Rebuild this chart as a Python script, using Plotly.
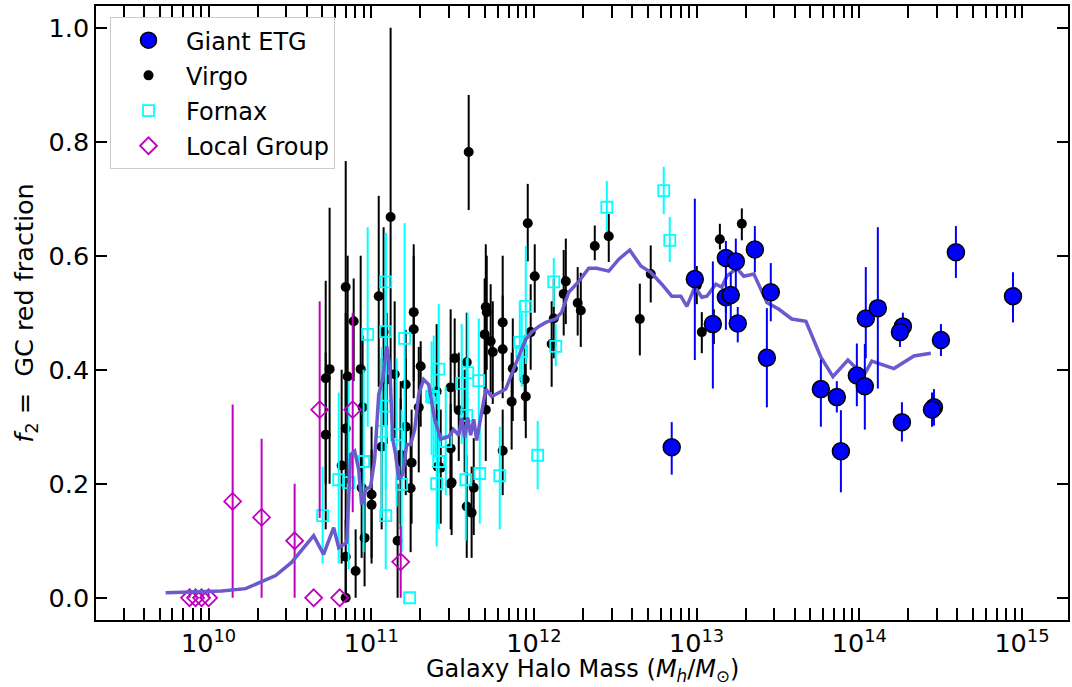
import plotly.graph_objects as go

# ---------------- data (log10 halo mass, red fraction, upper bound, lower bound) -------------
etg_logm = [12.989, 12.847, 13.100, 13.180, 13.241, 13.180, 13.210, 13.253, 13.358, 13.456,
            13.432, 13.764, 13.862, 13.887, 13.985, 14.040, 14.034, 14.114, 14.268, 14.250,
            14.262, 14.459, 14.447, 14.502, 14.594, 14.945]
etg_f = [0.559, 0.264, 0.480, 0.596, 0.590, 0.527, 0.531, 0.481, 0.611, 0.536,
         0.421, 0.366, 0.352, 0.257, 0.390, 0.490, 0.371, 0.508, 0.476, 0.466,
         0.308, 0.334, 0.330, 0.452, 0.606, 0.529]
etg_hi = [0.700, 0.308, 0.590, 0.626, 0.630, 0.560, 0.570, 0.510, 0.652, 0.587,
          0.508, 0.418, 0.380, 0.329, 0.446, 0.580, 0.445, 0.650, 0.500, 0.480,
          0.343, 0.366, 0.360, 0.480, 0.652, 0.571]
etg_lo = [0.417, 0.216, 0.367, 0.500, 0.530, 0.470, 0.480, 0.448, 0.571, 0.485,
          0.334, 0.300, 0.325, 0.185, 0.336, 0.420, 0.295, 0.367, 0.466, 0.440,
          0.274, 0.302, 0.300, 0.424, 0.561, 0.483]

virgo_logm = [10.843, 10.843, 10.904, 10.959, 11.002, 11.002, 10.941, 10.818, 10.843, 10.720,
              10.947, 11.064, 11.181, 11.181, 11.248, 11.242, 11.162, 11.212, 11.212, 11.292,
              11.408, 11.488, 11.488, 11.488, 11.427, 11.095, 11.119, 10.843, 11.046, 10.892,
              10.744, 10.720, 10.855, 10.935, 11.261, 11.261, 11.304, 11.144, 11.076, 11.402,
              11.513, 11.587, 11.538, 11.574, 11.494, 11.587, 11.617, 11.630, 11.704, 11.710,
              11.697, 11.734, 11.808, 11.808, 11.747, 11.870, 11.863, 11.704, 11.808, 11.962,
              12.005, 11.980, 11.943, 11.950, 12.122, 12.109, 12.196, 12.183, 12.269, 12.288,
              12.374, 12.460, 12.651, 12.718, 13.001, 13.032, 13.106, 13.143, 13.278, 11.599]
virgo_f = [0.000, 0.072, 0.047, 0.105, 0.163, 0.181, 0.193, 0.232, 0.297, 0.286,
           0.334, 0.265, 0.239, 0.251, 0.237, 0.192, 0.100, 0.374, 0.300, 0.334,
           0.230, 0.262, 0.200, 0.369, 0.228, 0.383, 0.668, 0.545, 0.529, 0.485,
           0.401, 0.385, 0.388, 0.401, 0.501, 0.471, 0.406, 0.392, 0.466, 0.362,
           0.420, 0.413, 0.329, 0.308, 0.202, 0.160, 0.149, 0.193, 0.510, 0.501,
           0.462, 0.450, 0.483, 0.436, 0.431, 0.402, 0.344, 0.330, 0.258, 0.657,
           0.564, 0.466, 0.383, 0.353, 0.490, 0.445, 0.555, 0.533, 0.517, 0.504,
           0.617, 0.634, 0.489, 0.568, 0.548, 0.466, 0.476, 0.629, 0.656, 0.782]
virgo_hi = [0.070, 0.137, 0.120, 0.190, 0.260, 0.300, 0.320, 0.400, 0.500, 0.430,
            0.460, 0.420, 0.350, 0.380, 0.330, 0.300, 0.200, 0.470, 0.420, 0.440,
            0.330, 0.340, 0.280, 0.506, 0.330, 0.500, 1.000, 0.766, 0.705, 0.560,
            0.684, 0.556, 0.600, 0.600, 0.620, 0.600, 0.450, 0.520, 0.650, 0.480,
            0.490, 0.500, 0.430, 0.400, 0.300, 0.250, 0.230, 0.280, 0.620, 0.600,
            0.560, 0.550, 0.600, 0.530, 0.520, 0.490, 0.430, 0.420, 0.330, 0.726,
            0.620, 0.550, 0.460, 0.420, 0.560, 0.520, 0.630, 0.610, 0.580, 0.570,
            0.653, 0.673, 0.551, 0.618, 0.582, 0.501, 0.506, 0.656, 0.683, 0.882]
virgo_lo = [0.000, 0.000, 0.000, 0.020, 0.060, 0.070, 0.070, 0.060, 0.100, 0.120,
            0.200, 0.120, 0.120, 0.130, 0.130, 0.080, 0.000, 0.270, 0.180, 0.220,
            0.130, 0.180, 0.120, 0.270, 0.130, 0.270, 0.380, 0.330, 0.370, 0.380,
            0.200, 0.200, 0.200, 0.220, 0.380, 0.350, 0.300, 0.280, 0.300, 0.250,
            0.330, 0.320, 0.240, 0.220, 0.110, 0.070, 0.070, 0.110, 0.400, 0.400,
            0.360, 0.360, 0.380, 0.350, 0.340, 0.310, 0.260, 0.240, 0.180, 0.590,
            0.500, 0.400, 0.310, 0.280, 0.420, 0.370, 0.480, 0.460, 0.460, 0.440,
            0.592, 0.589, 0.425, 0.518, 0.515, 0.429, 0.445, 0.611, 0.627, 0.680]

fornax_logm = [10.701, 10.800, 10.953, 11.064, 11.156, 11.089, 11.187, 11.402, 11.415, 11.371,
               11.458, 11.236, 11.089, 11.089, 10.978, 11.089, 11.205, 11.415, 11.384, 11.556,
               11.593, 11.661, 11.587, 11.667, 11.790, 11.581, 11.950, 12.122, 12.134, 12.023,
               11.913, 11.925, 12.448, 12.798, 12.835, 10.861]
fornax_f = [0.144, 0.207, 0.239, 0.292, 0.286, 0.144, 0.199, 0.200, 0.239, 0.353,
            0.274, 0.000, 0.336, 0.554, 0.462, 0.467, 0.455, 0.401, 0.351, 0.376,
            0.395, 0.381, 0.320, 0.218, 0.214, 0.207, 0.511, 0.554, 0.441, 0.250,
            0.448, 0.432, 0.685, 0.714, 0.627, 0.202]
fornax_hi = [0.230, 0.360, 0.400, 0.440, 0.420, 0.360, 0.330, 0.310, 0.340, 0.450,
             0.370, 0.000, 0.460, 0.640, 0.650, 0.640, 0.657, 0.515, 0.460, 0.480,
             0.500, 0.490, 0.420, 0.310, 0.300, 0.300, 0.617, 0.596, 0.480, 0.310,
             0.520, 0.500, 0.731, 0.756, 0.668, 0.380]
fornax_lo = [0.060, 0.060, 0.080, 0.140, 0.160, 0.050, 0.080, 0.090, 0.120, 0.250,
             0.180, 0.000, 0.190, 0.400, 0.300, 0.300, 0.260, 0.290, 0.240, 0.270,
             0.290, 0.280, 0.220, 0.130, 0.120, 0.100, 0.410, 0.510, 0.406, 0.190,
             0.380, 0.370, 0.643, 0.673, 0.589, 0.050]

lg_logm = [9.883, 9.920, 9.957, 10.000, 10.148, 10.326, 10.529, 10.646, 10.806, 10.683, 10.886, 11.181]
lg_f = [0.000, 0.000, 0.000, 0.000, 0.169, 0.141, 0.100, 0.000, 0.000, 0.330, 0.330, 0.063]
lg_hi = [0.010, 0.010, 0.010, 0.010, 0.339, 0.279, 0.200, 0.000, 0.000, 0.520, 0.500, 0.125]
lg_lo = [0.000, 0.000, 0.000, 0.000, 0.000, 0.000, 0.000, 0.000, 0.000, 0.140, 0.150, 0.000]

line_logm = [9.736, 9.895, 10.080, 10.228, 10.326, 10.412, 10.510, 10.597, 10.646, 10.707,
             10.769, 10.800, 10.849, 10.873, 10.898, 10.923, 10.941, 10.966, 10.996, 11.021,
             11.046, 11.070, 11.095, 11.113, 11.132, 11.150, 11.169, 11.193, 11.218, 11.242,
             11.267, 11.292, 11.322, 11.353, 11.390, 11.427, 11.476, 11.507, 11.538, 11.556,
             11.574, 11.593, 11.611, 11.630, 11.648, 11.667, 11.704, 11.740, 11.827, 11.907,
             11.950, 11.986, 12.030, 12.073, 12.134, 12.171, 12.214, 12.276, 12.337, 12.386,
             12.460, 12.522, 12.589, 12.657, 12.718, 12.786, 12.847, 12.903, 12.940, 12.989,
             13.032, 13.063, 13.118, 13.155, 13.186, 13.247, 13.290, 13.352, 13.432, 13.506,
             13.585, 13.672, 13.764, 13.838, 13.930, 14.028, 14.077, 14.213, 14.336, 14.440]
line_f = [0.009, 0.011, 0.012, 0.016, 0.028, 0.039, 0.062, 0.093, 0.109, 0.076,
          0.123, 0.088, 0.097, 0.251, 0.257, 0.225, 0.163, 0.190, 0.195, 0.243,
          0.357, 0.383, 0.441, 0.409, 0.278, 0.251, 0.207, 0.216, 0.269, 0.269,
          0.295, 0.357, 0.383, 0.374, 0.313, 0.278, 0.283, 0.295, 0.285, 0.315,
          0.281, 0.316, 0.285, 0.313, 0.276, 0.306, 0.366, 0.353, 0.366, 0.424,
          0.453, 0.466, 0.476, 0.483, 0.489, 0.501, 0.536, 0.555, 0.578, 0.578,
          0.573, 0.594, 0.610, 0.582, 0.571, 0.550, 0.529, 0.529, 0.511, 0.545,
          0.527, 0.529, 0.550, 0.545, 0.564, 0.578, 0.564, 0.568, 0.518, 0.506,
          0.489, 0.485, 0.422, 0.388, 0.417, 0.390, 0.415, 0.402, 0.424, 0.429]

x_decades = [10, 11, 12, 13, 14, 15]
y_ticks = [0.0, 0.2, 0.4, 0.6, 0.8, 1.0]

FONT = "DejaVu Sans"
FS_TICK = 25.5
FS_TITLE = 25.5
FS_XTITLE = 24
FS_LEG = 24


def to_mass(logm):
    return [10 ** v for v in logm]


def err_up(f, hi):
    return [max(h - v, 0.0) for v, h in zip(f, hi)]


def err_dn(f, lo):
    return [max(v - l, 0.0) for v, l in zip(f, lo)]


fig = go.Figure()

fig.add_trace(go.Scatter(
    x=to_mass(virgo_logm), y=virgo_f, mode="markers", name="Virgo", legendrank=2, legendgroup="b",
    marker=dict(symbol="circle", size=10, color="black"),
    error_y=dict(type="data", symmetric=False, array=err_up(virgo_f, virgo_hi),
                 arrayminus=err_dn(virgo_f, virgo_lo), color="black", thickness=2, width=0)))

fig.add_trace(go.Scatter(
    x=to_mass(fornax_logm), y=fornax_f, mode="markers", name="Fornax", legendrank=3, legendgroup="c",
    marker=dict(symbol="square-open", size=11, color="#00ffff", line=dict(width=1.8, color="#00ffff")),
    error_y=dict(type="data", symmetric=False, array=err_up(fornax_f, fornax_hi),
                 arrayminus=err_dn(fornax_f, fornax_lo), color="#00ffff", thickness=2, width=0)))

fig.add_trace(go.Scatter(
    x=to_mass(lg_logm), y=lg_f, mode="markers", name="Local Group", legendrank=4, legendgroup="d",
    marker=dict(symbol="diamond-open", size=13, color="#bf00bf", line=dict(width=1.8, color="#bf00bf")),
    error_y=dict(type="data", symmetric=False, array=err_up(lg_f, lg_hi),
                 arrayminus=err_dn(lg_f, lg_lo), color="#bf00bf", thickness=2, width=0)))

fig.add_trace(go.Scatter(
    x=to_mass(line_logm), y=line_f, mode="lines", showlegend=False,
    line=dict(color="#6a5acd", width=3.5)))

fig.add_trace(go.Scatter(
    x=to_mass(etg_logm), y=etg_f, mode="markers", name="Giant ETG", legendrank=1, legendgroup="a",
    marker=dict(symbol="circle", size=17, color="#0000ff", line=dict(width=1.5, color="black")),
    error_y=dict(type="data", symmetric=False, array=err_up(etg_f, etg_hi),
                 arrayminus=err_dn(etg_f, etg_lo), color="#0000ff", thickness=2, width=0)))

# x ticks: majors at decades plus minor 2..9 multiples
xtickvals, xticktext = [], []
for d in range(9, 16):
    for m in range(1, 10):
        v = m * 10 ** d
        if 2e9 <= v <= 1.5e15:
            xtickvals.append(v)
            xticktext.append("10<sup>%d</sup>" % d if (m == 1 and d in x_decades) else "")

fig.update_layout(
    width=1072, height=687,
    margin=dict(l=96, r=2, t=6, b=67),
    paper_bgcolor="white", plot_bgcolor="white",
    font=dict(family=FONT, size=FS_TICK, color="black"),
    showlegend=True,
    legend=dict(x=0.0144, y=0.982, xanchor="left", yanchor="top",
                bgcolor="rgba(255,255,255,0.8)", bordercolor="#cccccc", borderwidth=1,
                font=dict(family=FONT, size=FS_LEG), itemwidth=65,
                traceorder="grouped", tracegroupgap=1),
    xaxis=dict(type="log", range=[9.308, 15.283],
               tickvals=xtickvals, ticktext=xticktext,
               ticks="inside", ticklen=12, tickwidth=2, tickcolor="black",
               tickfont=dict(family=FONT, size=FS_TICK),
               showline=True, linecolor="black", linewidth=1.5, mirror="allticks",
               showgrid=False, zeroline=False),
    yaxis=dict(range=[-0.039, 1.038], tickvals=y_ticks,
               ticktext=["%.1f" % v for v in y_ticks],
               ticks="inside", ticklen=11, tickwidth=2, tickcolor="black",
               tickfont=dict(family=FONT, size=FS_TICK),
               showline=True, linecolor="black", linewidth=1.5, mirror="allticks",
               showgrid=False, zeroline=False,
               title=dict(text="<i>f</i><sub>2</sub> =  GC red fraction",
                          font=dict(family=FONT, size=FS_TITLE), standoff=8)),
    annotations=[dict(text="Galaxy Halo Mass (<i>M<sub>h</sub></i>/<i>M</i><sub>⊙</sub>)",
                      xref="paper", yref="paper", x=0.5, y=-0.083,
                      xanchor="center", yanchor="middle", showarrow=False,
                      font=dict(family=FONT, size=FS_XTITLE))],
)

fig.write_html("out.html")
